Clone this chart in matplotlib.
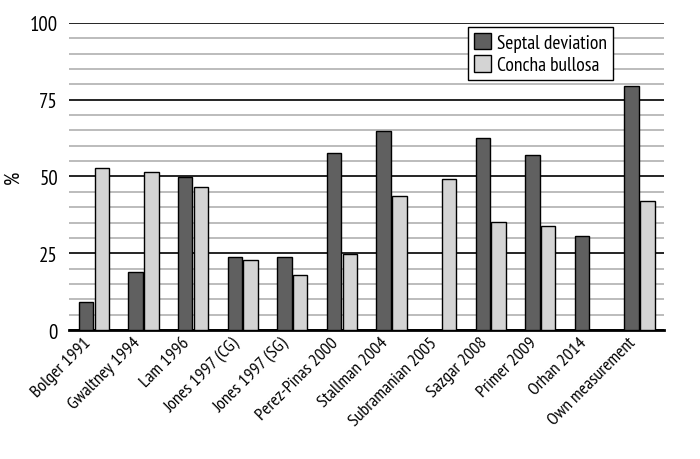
import numpy as np
import matplotlib
matplotlib.use("Agg")
import matplotlib.pyplot as plt
from matplotlib.ticker import MultipleLocator

# --- data ---
studies = ["Bolger 1991", "Gwaltney 1994", "Lam 1996", "Jones 1997 (CG)",
           "Jones 1997 (SG)", "Perez-Pinas 2000", "Stallman 2004",
           "Subramanian 2005", "Sazgar 2008", "Primer 2009", "Orhan 2014",
           "Own measurement"]
septal_deviation = [9.0, 18.8, 49.7, 23.9, 23.9, 57.6, 64.7, 0.0, 62.4, 57.1, 30.7, 79.4]
concha_bullosa = [52.7, 51.5, 46.5, 22.7, 17.9, 24.8, 43.6, 49.2, 35.1, 33.9, 0.0, 41.9]
yticks = [0, 25, 50, 75, 100]

plt.rcParams['font.family'] = ['PT Sans Narrow', 'DejaVu Sans']

fig = plt.figure(figsize=(7, 4.6), dpi=100)
ax = fig.add_axes([0.0986, 0.2804, 0.8504, 0.6676])

x = np.arange(len(studies))
w = 0.29
ax.bar(x - 0.16, septal_deviation, width=w, color='#606060', edgecolor='black',
       linewidth=1, label='Septal deviation', zorder=3)
ax.bar(x + 0.16, concha_bullosa, width=w, color='#d4d4d4', edgecolor='black',
       linewidth=1, label='Concha bullosa', zorder=3)

ax.set_xlim(-0.5, len(studies) - 0.5)
ax.set_ylim(0, 100)
ax.set_yticks(yticks)
ax.yaxis.set_minor_locator(MultipleLocator(5))
ax.grid(which='minor', axis='y', color='#b0b0b0', linewidth=1.2, zorder=0)
ax.grid(which='major', axis='y', color='black', linewidth=1.2, zorder=1)

for s in ['left', 'right', 'top']:
    ax.spines[s].set_visible(False)
ax.spines['bottom'].set_linewidth(2)
ax.tick_params(axis='both', which='both', length=0)
ax.tick_params(axis='y', labelsize=15, pad=8)
ax.tick_params(axis='x', pad=3)

ax.set_xticks(x)
ax.set_xticklabels(studies, rotation=45, ha='right', fontsize=13)
ax.set_ylabel('%', fontsize=15)
ax.yaxis.set_label_coords(-0.078, 0.5)

leg = ax.legend(loc='upper right', bbox_to_anchor=(0.913, 0.987), fontsize=14,
                frameon=True, fancybox=False, edgecolor='black', framealpha=1,
                handlelength=0.85, handleheight=0.9, handletextpad=0.3,
                borderpad=0.3, labelspacing=0.2, borderaxespad=0)
leg.get_frame().set_linewidth(1)

fig.savefig("out.png", dpi=100)
